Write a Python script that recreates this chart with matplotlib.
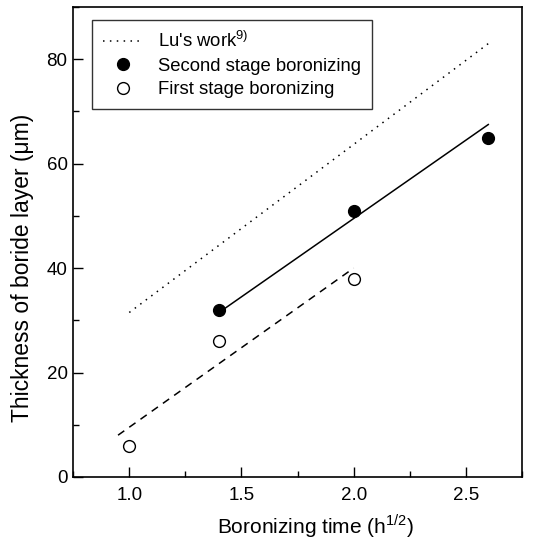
import matplotlib
matplotlib.use("Agg")
import matplotlib.pyplot as plt
from matplotlib.ticker import MultipleLocator

plt.rcParams['font.family'] = ['Liberation Sans', 'DejaVu Sans']
plt.rcParams['mathtext.fontset'] = 'custom'
plt.rcParams['mathtext.rm'] = 'Liberation Sans'

# measured points
second_x = [1.4, 2.0, 2.6]
second_y = [32, 51, 65]
first_x = [1.0, 1.4, 2.0]
first_y = [6, 26, 38]

# fitted lines (end points)
second_fit_x = [1.4, 2.6]
second_fit_y = [31.5, 67.5]
first_fit_x = [0.95, 2.0]
first_fit_y = [8, 40]
lu_x = [1.0, 2.6]
lu_y = [31.5, 83]

fig = plt.figure(figsize=(5.42, 5.42), dpi=100)
ax = fig.add_axes([0.135, 0.12, 0.828, 0.867])

ax.plot(lu_x, lu_y, c='black', lw=1.1, ls=(0, (1, 3.5)), label="Lu's work$^{9)}$")
ax.plot(second_fit_x, second_fit_y, '-', c='black', lw=1.1)
ax.plot(first_fit_x, first_fit_y, '--', c='black', lw=1.1, dashes=(5, 4))
ax.plot(second_x, second_y, 'o', c='black', ms=8.5, ls='none', label='Second stage boronizing')
ax.plot(first_x, first_y, 'o', mfc='white', mec='black', mew=1.0, ms=8.5, ls='none',
        label='First stage boronizing')

ax.set_xlim(0.75, 2.75)
ax.set_ylim(0, 90)
ax.xaxis.set_major_locator(MultipleLocator(0.5))
ax.xaxis.set_minor_locator(MultipleLocator(0.25))
ax.yaxis.set_major_locator(MultipleLocator(20))
ax.yaxis.set_minor_locator(MultipleLocator(10))
ax.set_xticks([1.0, 1.5, 2.0, 2.5])
ax.set_xticklabels(['1.0', '1.5', '2.0', '2.5'])
ax.tick_params(which='major', direction='in', length=7, width=1, labelsize=13.5)
ax.tick_params(which='minor', direction='in', length=4, width=1)
ax.tick_params(axis='x', pad=7)
ax.tick_params(axis='y', pad=4)
for s in ax.spines.values():
    s.set_linewidth(1.2)

ax.set_xlabel('Boronizing time (h$^{1/2}$)', fontsize=15)
ax.set_ylabel('Thickness of boride layer (\u03bcm)', fontsize=16.5)
ax.xaxis.set_label_coords(0.539, -0.074)
ax.yaxis.set_label_coords(-0.087, 0.445)

leg = ax.legend(loc='upper left', bbox_to_anchor=(0.042, 0.972), fontsize=13.3,
                frameon=True, fancybox=False, edgecolor='black',
                handlelength=2.15, handletextpad=0.8, borderaxespad=0.0,
                labelspacing=0.35, borderpad=0.6)
leg.get_frame().set_linewidth(1.0)

fig.savefig('out.png', dpi=100)
